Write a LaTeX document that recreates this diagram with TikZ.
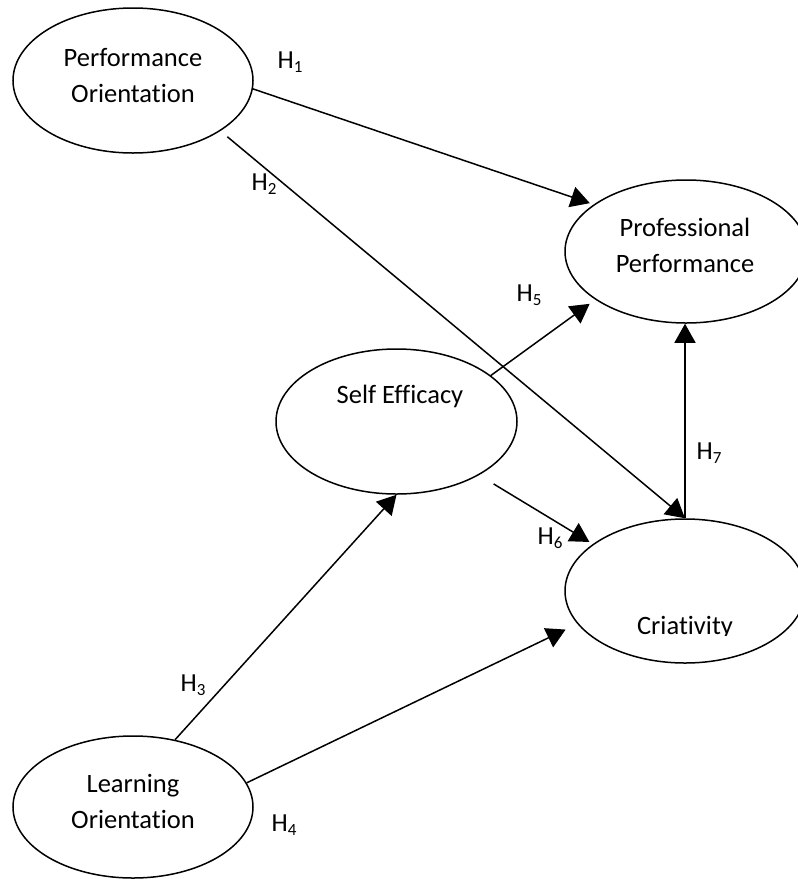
\documentclass[tikz,border=0pt]{standalone}
\usepackage{fontspec}
\setmainfont{Carlito}[Ligatures=NoCommon]
\usetikzlibrary{arrows.meta,shapes.geometric}
\newcommand\Hsub[1]{H\raisebox{-0.35ex}{\fontsize{17}{17}\selectfont #1}}
\tikzset{
  construct/.style={ellipse,draw,line width=1.5pt,inner sep=0pt},
  ctext/.style={font=\fontsize{26.5}{36}\selectfont,align=center,inner sep=0pt},
  hlabel/.style={font=\fontsize{26}{30}\selectfont,inner sep=0pt},
  conn/.style={line width=1.5pt,-{Triangle[length=19pt,width=21pt]}},
}
\begin{document}
\begin{tikzpicture}[x=1pt,y=-1pt]
\useasboundingbox (0,0) rectangle (798,879);
% constructs
\node[construct,minimum width=240pt,minimum height=145pt] (po) at (133,80.5) {};
\node[construct,minimum width=242pt,minimum height=143pt] (pp) at (686,251.5) {};
\node[construct,minimum width=241pt,minimum height=145pt] (se) at (396.5,421.5) {};
\node[construct,minimum width=240pt,minimum height=144pt] (cr) at (685,591) {};
\node[construct,minimum width=240pt,minimum height=142pt] (lo) at (133,807) {};
% texts
\node[ctext] (pot) at (133,76) {Performance\\Orientation};
\node[ctext] (ppt) at (685,245) {Professional\\Performance};
\node[ctext] (set) at (400,396) {Self Efficacy};
\begin{scope}
\clip (560,590) rectangle (800,635);
\node[ctext] (crt) at (685,628) {Criativity};
\end{scope}
\node[ctext] (lot) at (133,801) {Learning\\Orientation};
% connectors
\draw[conn,shorten >=4pt] (po.-4) -- (pp.153);
\draw[conn,shorten <=9pt] (po.-30) -- (cr.north);
\draw[conn,shorten >=7pt] (se.26) -- (pp.-152);
\draw[conn,shorten <=17pt,shorten >=4pt] (se.-33) -- (cr.153);
\draw[conn] (cr.north) -- (cr.north |- pp.south);
\draw[conn] (lo.58) -- (se.south);
\draw[conn,shorten >=13pt] (lo.12) -- (cr.-163);
% labels
\node[hlabel] (h1) at (290,62) {\Hsub{1}};
\node[hlabel] (h2) at (264,184) {\Hsub{2}};
\node[hlabel] (h3) at (193,685) {\Hsub{3}};
\node[hlabel] (h4) at (284,825) {\Hsub{4}};
\node[hlabel] (h5) at (529,295) {\Hsub{5}};
\node[hlabel] (h6) at (550,538) {\Hsub{6}};
\node[hlabel] (h7) at (709,453) {\Hsub{7}};
\end{tikzpicture}
\end{document}
